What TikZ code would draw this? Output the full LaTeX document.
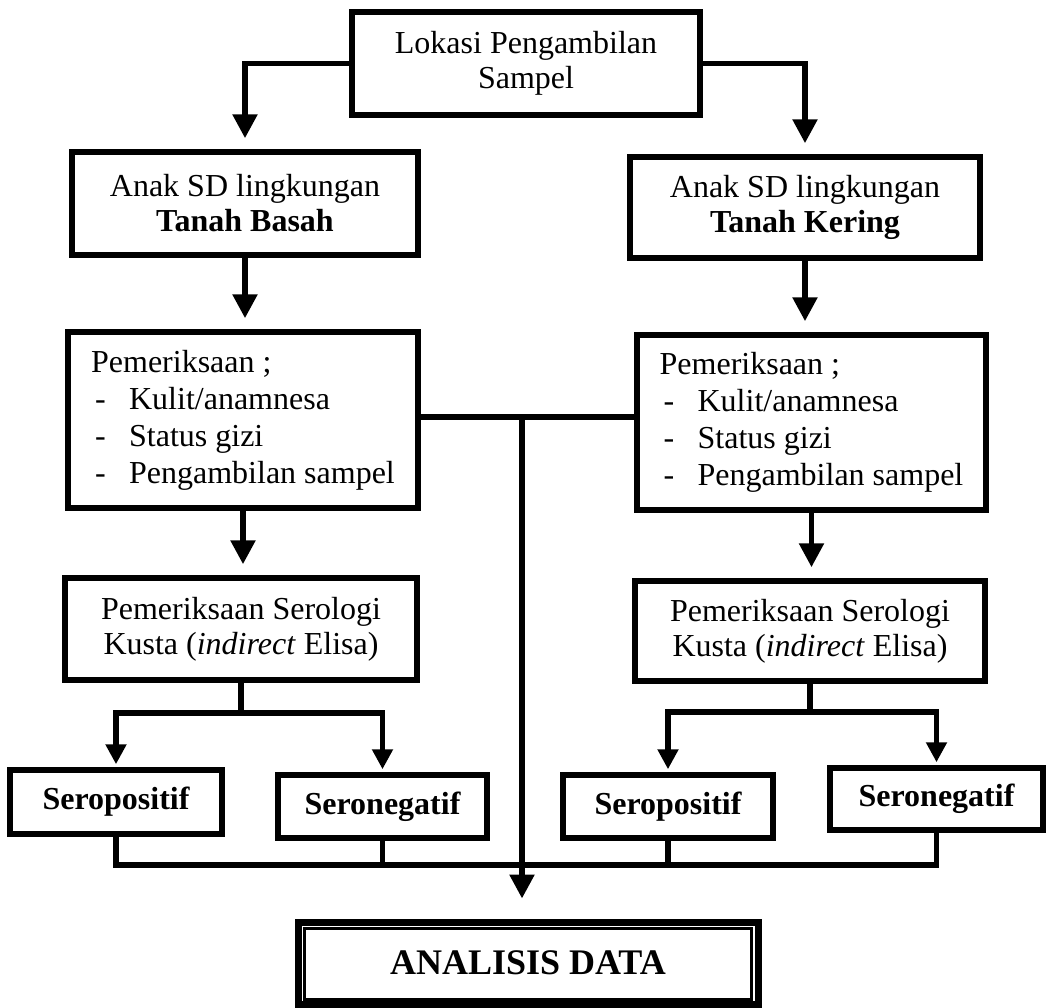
\documentclass[tikz,border=0pt]{standalone}
\usepackage{fontspec}
\setmainfont{Liberation Serif}
\usetikzlibrary{arrows.meta,calc}
\begin{document}
\begin{tikzpicture}[x=1pt,y=-1pt,
  box/.style={draw, line width=5.5pt, inner sep=0pt, align=center, font=\fontsize{32}{35}\selectfont},
  listbox/.style={box, align=left, font=\fontsize{32}{37}\selectfont},
  serobox/.style={box, font=\fontsize{32}{35}\selectfont\bfseries},
  link/.style={line width=5.5pt},
  arr/.style={link, -{Triangle[length=24pt,width=24pt]}, shorten >=11pt},
  sarr/.style={link, -{Triangle[length=20pt,width=20pt]}, shorten >=3pt},
]
\useasboundingbox (0,0) rectangle (1047,1007);

% boxes
\node[box, minimum width=348pt, minimum height=103pt] (lok) at (526,63.5) {Lokasi Pengambilan\\Sampel};
\node[box, minimum width=346pt, minimum height=103pt] (anakL) at (245,203.5) {Anak SD lingkungan\\\textbf{Tanah Basah}};
\node[box, minimum width=350pt, minimum height=101pt] (anakR) at (805,207.5) {Anak SD lingkungan\\\textbf{Tanah Kering}};
\node[listbox, minimum width=350pt, minimum height=176pt] (pemL) at (243,420) {Pemeriksaan ;\\\makebox[38pt][l]{\hspace{4pt}-}Kulit/anamnesa\\\makebox[38pt][l]{\hspace{4pt}-}Status gizi\\\makebox[38pt][l]{\hspace{4pt}-}Pengambilan sampel};
\node[listbox, minimum width=349pt, minimum height=175pt] (pemR) at (811.5,422.5) {Pemeriksaan ;\\\makebox[38pt][l]{\hspace{4pt}-}Kulit/anamnesa\\\makebox[38pt][l]{\hspace{4pt}-}Status gizi\\\makebox[38pt][l]{\hspace{4pt}-}Pengambilan sampel};
\node[box, minimum width=352pt, minimum height=102pt] (serL) at (241,629) {Pemeriksaan Serologi\\Kusta (\textit{indirect} Elisa)};
\node[box, minimum width=350pt, minimum height=100pt] (serR) at (810,631) {Pemeriksaan Serologi\\Kusta (\textit{indirect} Elisa)};
\node[serobox, minimum width=212pt, minimum height=64pt] (posL) at (116,802) {Seropositif};
\node[serobox, minimum width=209pt, minimum height=63pt] (negL) at (382.5,806.5) {Seronegatif};
\node[serobox, minimum width=210pt, minimum height=63pt] (posR) at (668,806.5) {Seropositif};
\node[serobox, minimum width=213pt, minimum height=62pt] (negR) at (936.5,799) {Seronegatif};
\node[draw, line width=7pt, inner sep=0pt, minimum width=460pt, minimum height=82pt, font=\fontsize{36}{40}\selectfont\bfseries] (data) at (528,963) {ANALISIS DATA};
\draw[line width=2.5pt] ([xshift=10pt,yshift=-10pt]data.north west) rectangle ([xshift=-10pt,yshift=8pt]data.south east);

% connectors
\draw[arr] (lok.west) -| (anakL.north);
\draw[arr] (lok.east) -| (anakR.north);
\draw[arr] (anakL.south) -- (anakL.south |- pemL.north);
\draw[arr] (anakR.south) -- (anakR.south |- pemR.north);
\draw[arr] (pemL.south) -- (pemL.south |- serL.north);
\draw[arr] (pemR.south) -- (pemR.south |- serR.north);

\coordinate (j) at (522,417);
\coordinate (bar) at (522,865);
\draw[link] (pemL.east |- j) -- (pemR.west |- j);

\coordinate (bl) at (241,713);
\coordinate (br) at (810,712);
\draw[link] (serL.south) -- (bl);
\draw[link] (serR.south) -- (br);
\draw[sarr] (bl) -| (posL.north);
\draw[sarr] (bl) -| (negL.north);
\draw[sarr] (br) -| (posR.north);
\draw[sarr] (br) -| (negR.north);

\draw[link] (posL.south) |- (bar);
\draw[link] (negR.south) |- (bar);
\draw[link] (negL.south) -- (negL.south |- bar);
\draw[link] (posR.south) -- (posR.south |- bar);
\draw[arr, shorten >=20pt] (j) -- (j |- data.north);
\end{tikzpicture}
\end{document}
